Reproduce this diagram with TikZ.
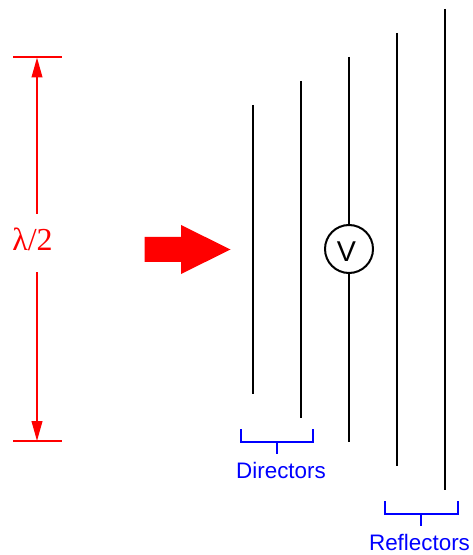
\documentclass[tikz,border=0pt]{standalone}
\usepackage{fontspec}
\setmainfont{Liberation Sans}
\newfontfamily\lamfont{Liberation Serif}
\usetikzlibrary{arrows.meta}
\definecolor{pureblue}{RGB}{0,0,255}
\definecolor{purered}{RGB}{255,0,0}
\tikzset{
  x=0.75pt,y=-0.75pt,
  element/.style={draw=black,line width=1.5pt},
  redline/.style={draw=purered,line width=1.5pt},
  dimarrow/.style={redline,-{Triangle[length=15pt,width=8pt,fill=purered]},shorten >=0pt},
  bracketline/.style={draw=pureblue,line width=1.5pt,line join=miter},
  bluelabel/.style={text=pureblue,font=\fontsize{16.8pt}{18pt}\selectfont,inner sep=0pt,anchor=base},
  meter/.style={circle,draw=black,fill=white,line width=1.5pt,minimum size=36pt,inner sep=0pt},
  meterlabel/.style={inner sep=0pt,font=\fontsize{21.5pt}{24pt}\selectfont}
}
\begin{document}
\begin{tikzpicture}
\useasboundingbox (0,0) rectangle (472,555);
% half-wave dimension
\coordinate (tL) at (13,57.5); \coordinate (tR) at (62,57.5); \coordinate (tM) at (37,57.5);
\coordinate (bL) at (13,441); \coordinate (bR) at (62,441); \coordinate (bM) at (37,441);
\node (lam) at (32.5,251) [anchor=base,text=purered,inner sep=0pt,font=\lamfont\fontsize{24pt}{26pt}\selectfont] {λ/2};
\draw[redline] (tL) -- (tR);
\draw[redline] (bL) -- (bR);
\draw[dimarrow] (37,214) -- (tM);
\draw[dimarrow] (37,272) -- (bM);
% big arrow
\fill[purered] (144.5,237) -- (181,237) -- (181,225) -- (230.5,249.5) -- (181,274) -- (181,262) -- (144.5,262) -- cycle;
% elements
\coordinate (d1t) at (253,105); \coordinate (d1b) at (253,394);
\coordinate (d2t) at (301,81); \coordinate (d2b) at (301,418);
\coordinate (drt) at (349,57); \coordinate (drb) at (349,442);
\coordinate (r1t) at (397,33); \coordinate (r1b) at (397,466);
\coordinate (r2t) at (445,9); \coordinate (r2b) at (445,490);
\draw[element] (d1t) -- (d1b);
\draw[element] (d2t) -- (d2b);
\draw[element] (drt) -- (drb);
\draw[element] (r1t) -- (r1b);
\draw[element] (r2t) -- (r2b);
\node[meter] (V) at (349,249) {};
\node[meterlabel] (Vtext) at (346.5,251.5) {V};
% brackets
\draw[bracketline] (241,429) -- (241,441.5) -- (313,441.5) -- (313,429);
\draw[bracketline] (277,441.5) -- (277,453.5);
\node[bluelabel] (dirs) at (281,478) {Directors};
\draw[bracketline] (385,501) -- (385,513.5) -- (457.5,513.5) -- (457.5,501);
\draw[bracketline] (421,513.5) -- (421,525.5);
\node[bluelabel] (refl) at (419.5,550) {Reflectors};
\end{tikzpicture}
\end{document}
